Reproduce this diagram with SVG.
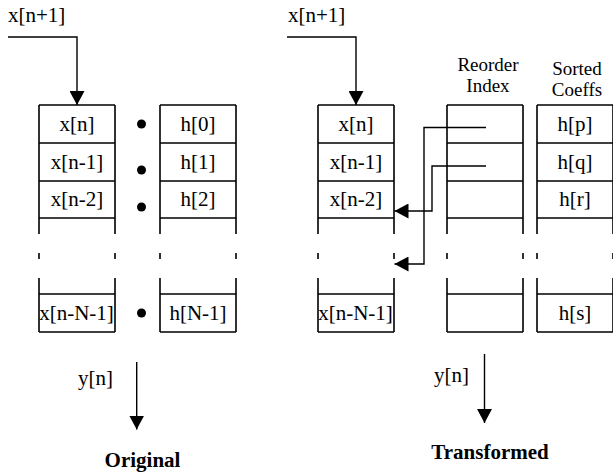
<svg xmlns="http://www.w3.org/2000/svg" width="613" height="474" viewBox="0 0 613 474">
  <style>
    .t { font-family: "Liberation Serif", "Times New Roman", serif; font-size: 21px; fill: #000; }
    .hd { font-size: 19px; }
    .c { text-anchor: middle; }
    .b { font-weight: bold; }
    .box { fill: none; stroke: #000; stroke-width: 1.6; }
    .wire { fill: none; stroke: #000; stroke-width: 1.4; }
  </style>
  <defs>
    <marker id="arr" markerUnits="userSpaceOnUse" markerWidth="15" markerHeight="15" refX="14" refY="7.5" orient="auto">
      <path d="M0,0 L14,7.5 L0,15 Z" fill="#000"/>
    </marker>
    <!-- one column of delay-line cells: sides broken by a gap with ticks -->
    <g id="col">
      <path class="box" d="M0,105 H76 M0,143 H76 M0,181 H76 M0,218 H76 M0,294 H76 M0,332 H76
                            M0,105 V234 M76,105 V234 M0,253 V259 M76,253 V259 M0,278 V332 M76,278 V332"/>
    </g>
  </defs>

  <!-- Original structure -->
  <g id="orig-input">
    <text class="t" x="8" y="22">x[n+1]</text>
  </g>
  <g id="orig-x">
    <use href="#col" x="39"/>
    <text class="t c" x="77" y="131">x[n]</text>
    <text class="t c" x="77" y="169">x[n-1]</text>
    <text class="t c" x="77" y="206">x[n-2]</text>
    <text class="t c" x="76.5" y="320">x[n-N-1]</text>
  </g>
  <g id="orig-dots">
    <circle cx="141.5" cy="124" r="4.5"/>
    <circle cx="141.5" cy="170" r="4.5"/>
    <circle cx="141.5" cy="207" r="4.5"/>
    <circle cx="141.5" cy="313" r="4.5"/>
  </g>
  <g id="orig-h">
    <use href="#col" x="160"/>
    <text class="t c" x="198" y="131">h[0]</text>
    <text class="t c" x="198" y="169">h[1]</text>
    <text class="t c" x="198" y="206">h[2]</text>
    <text class="t c" x="198" y="320">h[N-1]</text>
  </g>
  <g id="orig-output">
    <text class="t" x="78" y="385">y[n]</text>
  </g>
  <g id="orig-title">
    <text class="t c b" x="142.5" y="467">Original</text>
  </g>

  <!-- Transformed structure -->
  <g id="tr-input">
    <text class="t" x="288" y="22">x[n+1]</text>
  </g>
  <g id="tr-x">
    <use href="#col" x="318"/>
    <text class="t c" x="356" y="131">x[n]</text>
    <text class="t c" x="356" y="169">x[n-1]</text>
    <text class="t c" x="356" y="206">x[n-2]</text>
    <text class="t c" x="355.5" y="320">x[n-N-1]</text>
  </g>
  <g id="tr-index">
    <text class="t hd c" x="488" y="71">Reorder</text>
    <text class="t hd c" x="488" y="92">Index</text>
    <use href="#col" x="447"/>
  </g>
  <g id="tr-coeffs">
    <text class="t hd c" x="577" y="75">Sorted</text>
    <text class="t hd c" x="577" y="96">Coeffs</text>
    <use href="#col" x="537"/>
    <text class="t c" x="575" y="131">h[p]</text>
    <text class="t c" x="575" y="169">h[q]</text>
    <text class="t c" x="575" y="206">h[r]</text>
    <text class="t c" x="575" y="320">h[s]</text>
  </g>
  <g id="tr-output">
    <text class="t" x="434" y="382">y[n]</text>
  </g>
  <g id="tr-title">
    <text class="t c b" x="490" y="459">Transformed</text>
  </g>

  <!-- connectors -->
  <g id="connectors">
    <path class="wire" d="M8,37 H77 V105" marker-end="url(#arr)"/>
    <path class="wire" d="M136.7,362 V429.5" marker-end="url(#arr)"/>
    <path class="wire" d="M287,37 H356 V105" marker-end="url(#arr)"/>
    <path class="wire" d="M486,127.5 H424 V264 H394.5" marker-end="url(#arr)"/>
    <path class="wire" d="M486,166 H432 V211 H394.5" marker-end="url(#arr)"/>
    <path class="wire" d="M484.5,354 V423" marker-end="url(#arr)"/>
  </g>
</svg>
